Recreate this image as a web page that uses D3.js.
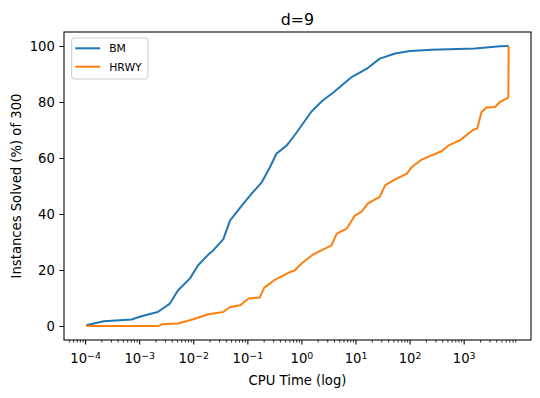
<!DOCTYPE html>
<html>
<head>
<meta charset="utf-8">
<script src="https://cdn.jsdelivr.net/npm/d3@7"></script>
<style>
  body { margin: 0; background: #fff; }
  text { font-family: "DejaVu Sans", sans-serif; fill: #000; }
</style>
</head>
<body>
<svg id="chart" width="540" height="398"></svg>
<script>
// CPU time (s) and % of the 300 instances solved
var bmTime = [1.05e-4, 2.2e-4, 7.2e-4, 1.1e-3, 2.2e-3, 3.7e-3, 5.2e-3, 8.7e-3, 0.0123, 0.019, 0.0234,
  0.036, 0.048, 0.079, 0.12, 0.186, 0.263, 0.347, 0.537, 0.76, 1.02, 1.55, 2.5, 3.9, 8.5, 16.2,
  28, 54, 102, 257, 1620, 4680, 6800];
var bmSolved = [0.3, 1.7, 2.3, 3.5, 5, 8, 12.7, 17, 21.7, 25.5, 27,
  31, 37.7, 43, 47.3, 51.4, 56.8, 61.6, 64.5, 68.3, 71.8, 76.7, 80.6, 83.4, 88.9, 91.9,
  95.5, 97.3, 98.2, 98.7, 99.1, 99.9, 100];

var hrwyTime = [1.05e-4, 2.3e-3, 2.6e-3, 5.2e-3, 0.01, 0.019, 0.036, 0.048, 0.074, 0.105, 0.17,
  0.204, 0.324, 0.62, 0.76, 1.02, 1.66, 3.6, 4.5, 6.9, 9.8, 12.9, 17, 28, 35.5, 50, 89, 110,
  166, 389, 525, 851, 1510, 1780, 2140, 2630, 3800, 4680, 6700, 6800];
var hrwySolved = [0, 0, 0.6, 0.9, 2.4, 4.2, 5, 6.8, 7.4, 9.8, 10.2,
  13.6, 16.5, 19.3, 19.9, 22.4, 25.6, 28.8, 33, 34.8, 39.5, 40.8, 43.8, 46.1, 50.3, 52, 54.4, 56.8,
  59.4, 62.4, 64.5, 66.3, 70.1, 70.5, 76.4, 78, 78.2, 80, 81.6, 100];

var seriesNames = ["BM", "HRWY"];
var seriesColors = ["#1f77b4", "#ff7f0e"];
var yTicks = [0, 20, 40, 60, 80, 100];
var xDecades = [-4, -3, -2, -1, 0, 1, 2, 3];

var svgWidth = 540, svgHeight = 398;
var margin = {top: 32, right: 9, bottom: 58, left: 64};
var width = svgWidth - margin.left - margin.right;
var height = svgHeight - margin.top - margin.bottom;

var svg = d3.select("#chart");
var g = svg.append("g").attr("transform", "translate(" + margin.left + "," + margin.top + ")");

var x = d3.scaleLog()
  .domain([Math.pow(10, -4.39), Math.pow(10, 4.245)])
  .range([0, width]);
var y = d3.scaleLinear().domain([-5, 105]).range([height, 0]);

// minor ticks on the log axis
var minorTicks = [];
for (var e = -5; e <= 4; e++) {
  for (var k = 2; k <= 9; k++) {
    var v = k * Math.pow(10, e);
    if (v >= x.domain()[0] && v <= x.domain()[1]) minorTicks.push(v);
  }
}
g.append("g")
  .attr("transform", "translate(0," + height + ")")
  .call(d3.axisBottom(x).tickValues(minorTicks).tickSize(2.6).tickFormat(""))
  .call(a => a.select(".domain").remove())
  .selectAll("line").attr("stroke", "#000").attr("stroke-width", 0.8);

var xAxis = g.append("g")
  .attr("transform", "translate(0," + height + ")")
  .call(d3.axisBottom(x).tickValues(xDecades.map(d => Math.pow(10, d))).tickSize(4.6).tickPadding(4.6).tickFormat(""));
xAxis.select(".domain").remove();
xAxis.selectAll("line").attr("stroke", "#000").attr("stroke-width", 1.06);
xAxis.selectAll(".tick").each(function(d, i) {
  var t = d3.select(this).select("text")
    .attr("font-size", 13.2).attr("dy", "1.05em").attr("fill", "#000");
  t.append("tspan").text("10");
  t.append("tspan").attr("dy", "-0.45em").attr("font-size", 9.4)
    .text((xDecades[i] < 0 ? "\u2212" : "") + Math.abs(xDecades[i]));
});

var yAxis = g.append("g")
  .call(d3.axisLeft(y).tickValues(yTicks).tickSize(4.6).tickPadding(4.6));
yAxis.select(".domain").remove();
yAxis.selectAll("line").attr("stroke", "#000").attr("stroke-width", 1.06);
yAxis.selectAll("text").attr("font-size", 13.2).attr("fill", "#000");

// series lines
var line = d3.line().x(d => x(d[0])).y(d => y(d[1]));
var series = [d3.zip(bmTime, bmSolved), d3.zip(hrwyTime, hrwySolved)];
g.selectAll("path.series")
  .data(series)
  .join("path")
  .attr("class", "series")
  .attr("fill", "none")
  .attr("stroke", (d, i) => seriesColors[i])
  .attr("stroke-width", 2)
  .attr("stroke-linejoin", "round")
  .attr("d", line);

// frame
g.append("rect")
  .attr("width", width).attr("height", height)
  .attr("fill", "none").attr("stroke", "#000").attr("stroke-width", 1.06);

// labels
svg.append("text")
  .attr("x", margin.left + width / 2).attr("y", 25)
  .attr("text-anchor", "middle").attr("font-size", 15.8)
  .text("d=9");
svg.append("text")
  .attr("x", margin.left + width / 2).attr("y", 385)
  .attr("text-anchor", "middle").attr("font-size", 13.2)
  .text("CPU Time (log)");
svg.append("text")
  .attr("transform", "translate(21," + (margin.top + height / 2) + ") rotate(-90)")
  .attr("text-anchor", "middle").attr("font-size", 13.2)
  .text("Instances Solved (%) of 300");

// legend
var legend = g.append("g").attr("transform", "translate(7.7,6)");
legend.append("rect")
  .attr("width", 76.3).attr("height", 41).attr("rx", 2.5)
  .attr("fill", "#fff").attr("fill-opacity", 0.8)
  .attr("stroke", "#cccccc").attr("stroke-width", 1);
seriesNames.forEach(function(name, i) {
  var ly = 10.3 + i * 18.4;
  legend.append("line")
    .attr("x1", 3.5).attr("x2", 28.5).attr("y1", ly).attr("y2", ly)
    .attr("stroke", seriesColors[i]).attr("stroke-width", 2);
  legend.append("text")
    .attr("x", 37.5).attr("y", ly).attr("dy", "0.36em")
    .attr("font-size", 10.8).text(name);
});
</script>
</body>
</html>
